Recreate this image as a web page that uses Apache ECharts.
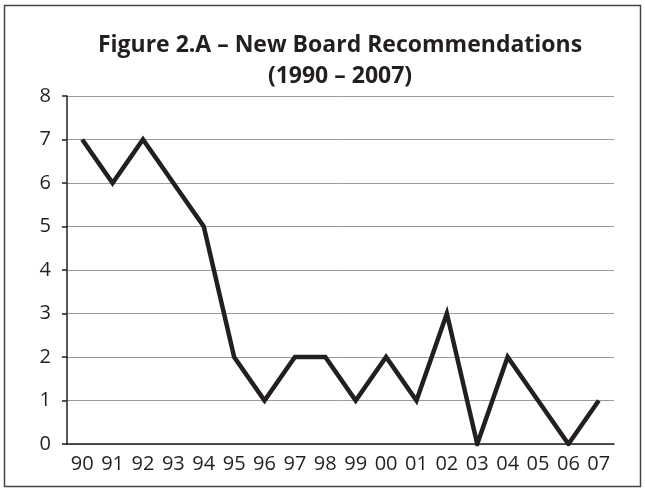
<!DOCTYPE html>
<html lang="en">
<head>
    <meta charset="UTF-8">
    <title>Figure 2.A</title>
    <script src="https://cdn.jsdelivr.net/npm/echarts@6/dist/echarts.min.js"></script>
    <style>
        html, body { margin: 0; padding: 0; background: #fff; }
        #main { width: 645px; height: 491px; }
    </style>
</head>
<body>
<div id="main"></div>
<script>
    // years shown on the x axis
    var years = ['90', '91', '92', '93', '94', '95', '96', '97', '98', '99',
                 '00', '01', '02', '03', '04', '05', '06', '07'];
    // new board recommendations per year
    var recommendations = [7, 6, 7, 6, 5, 2, 1, 2, 2, 1, 2, 1, 3, 0, 2, 1, 0, 1];
    var yTicks = [0, 1, 2, 3, 4, 5, 6, 7, 8];

    var myChart = echarts.init(document.getElementById('main'));
    var option = {
        backgroundColor: '#fff',
        animation: false,
        title: {
            text: 'Figure 2.A \u2013 New Board Recommendations\n(1990 \u2013 2007)',
            left: 335,
            top: 25,
            textAlign: 'center',
            textStyle: {
                fontFamily: 'Open Sans',
                fontWeight: 'bold',
                fontSize: 23,
                lineHeight: 31,
                color: '#231f20'
            }
        },
        graphic: [{
            type: 'rect',
            shape: { x: 4.5, y: 5.5, width: 636, height: 481 },
            style: { fill: 'none', stroke: '#444', lineWidth: 1.5 },
            silent: true
        }],
        grid: { left: 67, right: 31, top: 96, bottom: 47 },
        xAxis: {
            type: 'category',
            data: years,
            boundaryGap: true,
            axisLine: { lineStyle: { color: '#231f20', width: 1.5 } },
            axisTick: { alignWithLabel: false, length: 5, lineStyle: { color: '#231f20', width: 1.5 } },
            axisLabel: {
                fontFamily: 'Open Sans',
                fontSize: 20,
                color: '#231f20',
                margin: 10,
                interval: 0
            },
            splitLine: { show: false }
        },
        yAxis: {
            type: 'value',
            min: yTicks[0],
            max: yTicks[yTicks.length - 1],
            interval: 1,
            axisLine: { show: true, lineStyle: { color: '#231f20', width: 1.5 } },
            axisTick: { show: true, length: 5, lineStyle: { color: '#231f20', width: 1.5 } },
            axisLabel: {
                fontFamily: 'Open Sans',
                fontSize: 20,
                color: '#231f20',
                margin: 16
            },
            splitLine: { lineStyle: { color: '#9a9a9a', width: 1 } }
        },
        series: [{
            type: 'line',
            data: recommendations,
            symbol: 'none',
            lineStyle: { color: '#231f20', width: 4.5, join: 'miter' },
            z: 5
        }]
    };
    myChart.setOption(option);
</script>
</body>
</html>
